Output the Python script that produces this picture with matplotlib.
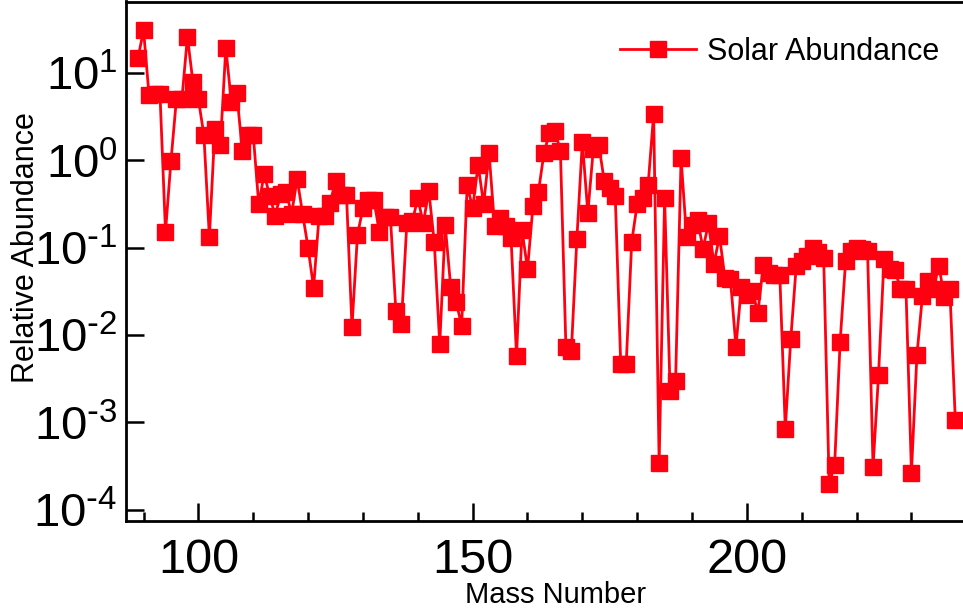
import numpy as np
import matplotlib
matplotlib.use("Agg")
import matplotlib.pyplot as plt
from matplotlib.ticker import LogLocator, NullLocator, MultipleLocator, FuncFormatter

# mass numbers 89..238 and relative solar abundances
mass_number = np.arange(89, 239)
abundance = [
    15, 31, 5.6, 5.8, 5.7, 0.152, 0.99, 5.1, 5.1, 26,            # 89-98
    7.9, 5.0, 1.96, 0.133, 2.3, 1.5, 19.5, 4.7, 5.9, 1.29,       # 99-108
    1.96, 1.96, 0.316, 0.70, 0.39, 0.234, 0.41, 0.43, 0.245, 0.62,  # 109-118
    0.245, 0.10, 0.035, 0.23, 0.23, 0.325, 0.58, 0.40, 0.40, 0.0124,  # 119-128
    0.14, 0.285, 0.355, 0.35, 0.152, 0.228, 0.228, 0.019, 0.0134, 0.19,  # 129-138
    0.20, 0.37, 0.19, 0.45, 0.117, 0.0079, 0.18, 0.0356, 0.024, 0.0128,  # 139-148
    0.52, 0.285, 0.89, 0.316, 1.21, 0.178, 0.218, 0.178, 0.13, 0.0058,  # 149-158
    0.16, 0.057, 0.30, 0.44, 1.21, 2.07, 2.2, 1.29, 0.0074, 0.0066,  # 159-168
    0.126, 1.64, 0.25, 1.35, 1.5, 0.58, 0.485, 0.39, 0.0047, 0.0047,  # 169-178
    0.117, 0.316, 0.37, 0.53, 3.4, 3.4e-4, 0.37, 0.0023, 0.003, 1.06,  # 179-188
    0.133, 0.18, 0.21, 0.098, 0.19, 0.065, 0.137, 0.045, 0.044, 0.0074,  # 189-198
    0.036, 0.029, 0.032, 0.018, 0.064, 0.051, 0.049, 0.049, 8.5e-4, 0.009,  # 199-208
    0.0625, 0.071, 0.08, 0.10, 0.089, 0.077, 1.97e-4, 3.3e-4, 0.0084, 0.071,  # 209-218
    0.093, 0.10, 0.097, 0.093, 3.1e-4, 0.0035, 0.075, 0.057, 0.055, 0.034,  # 219-228
    0.034, 2.67e-4, 0.0059, 0.028, 0.042, 0.034, 0.0625, 0.027, 0.034, 0.00106,  # 229-238
]

plt.rcParams["font.family"] = ["Liberation Sans", "DejaVu Sans"]


def decade_label(value, pos):
    # plain hyphen in the exponent instead of the wide mathtext minus
    exp = int(round(np.log10(value)))
    if exp < 0:
        return r"$\mathregular{10^{\text{-}%d}}$" % -exp
    return r"$\mathregular{10^{%d}}$" % exp


fig = plt.figure(figsize=(9.63, 6.15), dpi=100)
ax = fig.add_axes([126 / 963, 1 - 521 / 615, 1 - 126 / 963, (521 - 1.5) / 615])

ax.plot(mass_number, abundance, color="#ff0010", linewidth=2.0,
        marker="s", markersize=11.5, label="Solar Abundance")

ax.set_yscale("log")
ax.set_xlim(86.8, 239.4)
ax.set_ylim(7.45e-5, 66)

ax.yaxis.set_major_locator(LogLocator(base=10, numticks=10))
ax.yaxis.set_minor_locator(NullLocator())
ax.yaxis.set_major_formatter(FuncFormatter(decade_label))
ax.xaxis.set_major_locator(MultipleLocator(50))
ax.xaxis.set_minor_locator(MultipleLocator(10))

ax.tick_params(which="both", direction="in", width=1.8, colors="black")
ax.tick_params(which="major", length=13)
ax.tick_params(which="minor", length=6.5)
ax.tick_params(axis="y", which="major", labelsize=34, pad=6)
ax.tick_params(axis="x", which="major", labelsize=35, pad=12)
ax.tick_params(right=False, top=False)

for side in ("left", "bottom", "top"):
    ax.spines[side].set_linewidth(2.0)
ax.spines["right"].set_visible(False)

ax.set_xlabel("Mass Number", fontsize=21)
ax.xaxis.set_label_coords(0.513, -0.116)
ax.set_ylabel("Relative Abundance", fontsize=22)
ax.yaxis.set_label_coords(-0.101, 0.526)

ax.legend(loc="center left", bbox_to_anchor=(620 / 963, 1 - 52 / 615),
          bbox_transform=fig.transFigure, frameon=False, fontsize=22,
          borderpad=0, borderaxespad=0, handlelength=2.5, handletextpad=0.36)

fig.savefig("out.png", dpi=100)
